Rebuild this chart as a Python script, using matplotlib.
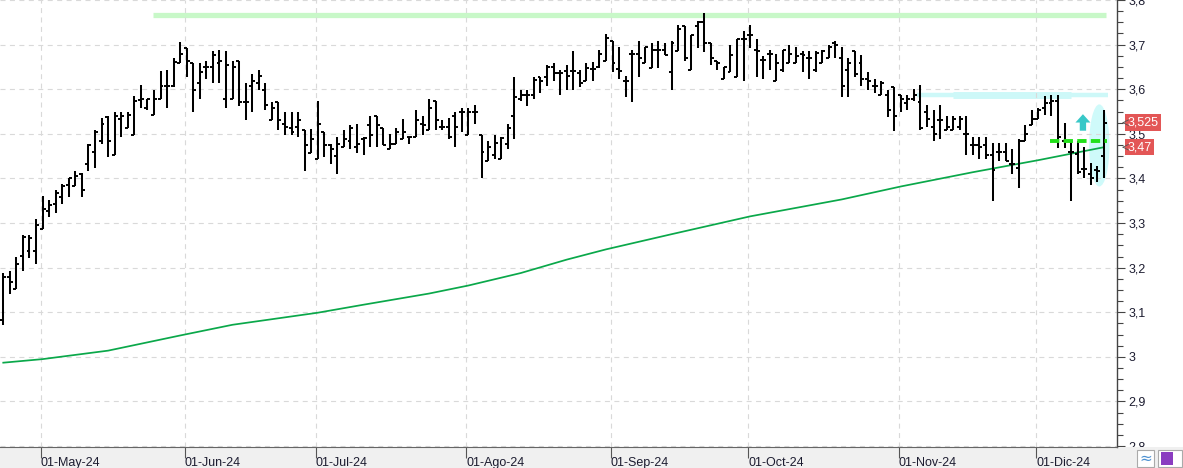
import numpy as np
import pandas as pd
import matplotlib
matplotlib.use('Agg')
import matplotlib.pyplot as plt
from matplotlib.patches import Ellipse, Rectangle
from matplotlib.ticker import MultipleLocator, FuncFormatter

plt.rcParams['font.family'] = ['Liberation Sans', 'DejaVu Sans']

# sesiones: 23-abr-2024 .. 16-dic-2024, sin el 1 de mayo
dates = pd.bdate_range('2024-04-23', '2024-12-16')
dates = dates[dates != pd.Timestamp('2024-05-01')]

opens = [3.083, 3.180, 3.153, 3.227, 3.238, 3.238, 3.287, 3.328, 3.343, 3.358,
         3.386, 3.384, 3.410, 3.432, 3.459, 3.485, 3.538, 3.453, 3.534, 3.513,
         3.498, 3.575, 3.557, 3.543, 3.579, 3.608, 3.608, 3.659, 3.692, 3.659,
         3.615, 3.649, 3.649, 3.659, 3.579, 3.579, 3.664, 3.571, 3.608, 3.615,
         3.599, 3.530, 3.571, 3.523, 3.512, 3.515, 3.509, 3.457, 3.444, 3.503,
         3.475, 3.450, 3.470, 3.485, 3.470, 3.489, 3.519, 3.539, 3.513, 3.465,
         3.478, 3.489, 3.494, 3.494, 3.523, 3.509, 3.574, 3.515, 3.515, 3.540,
         3.550, 3.498, 3.550, 3.498, 3.438, 3.453, 3.444, 3.478, 3.539, 3.579,
         3.588, 3.588, 3.627, 3.627, 3.649, 3.636, 3.640, 3.640, 3.636, 3.619,
         3.645, 3.649, 3.664, 3.709, 3.645, 3.619, 3.679, 3.679, 3.659, 3.647,
         3.689, 3.689, 3.639, 3.685, 3.741, 3.644, 3.741, 3.750, 3.704, 3.664,
         3.624, 3.639, 3.627, 3.713, 3.721, 3.689, 3.666, 3.679, 3.619, 3.644,
         3.659, 3.659, 3.679, 3.669, 3.644, 3.659, 3.669, 3.704, 3.669, 3.644,
         3.685, 3.659, 3.624, 3.608, 3.588, 3.588, 3.604, 3.588, 3.569, 3.579,
         3.571, 3.550, 3.515, 3.530, 3.509, 3.509, 3.515, 3.500, 3.474, 3.474,
         3.474, 3.453, 3.459, 3.459, 3.432, 3.423, 3.485, 3.519, 3.534, 3.559,
         3.569, 3.573, 3.483, 3.459, 3.455, 3.422, 3.410, 3.420, 3.450]
highs = [3.188, 3.193, 3.223, 3.274, 3.274, 3.308, 3.360, 3.352, 3.373, 3.387,
         3.400, 3.417, 3.413, 3.478, 3.509, 3.535, 3.539, 3.550, 3.550, 3.550,
         3.584, 3.609, 3.579, 3.599, 3.640, 3.644, 3.669, 3.705, 3.692, 3.659,
         3.659, 3.664, 3.685, 3.689, 3.685, 3.664, 3.664, 3.615, 3.634, 3.644,
         3.615, 3.571, 3.571, 3.550, 3.550, 3.550, 3.509, 3.511, 3.574, 3.503,
         3.478, 3.493, 3.509, 3.519, 3.523, 3.494, 3.539, 3.539, 3.513, 3.500,
         3.513, 3.534, 3.494, 3.554, 3.539, 3.579, 3.574, 3.530, 3.535, 3.550,
         3.558, 3.558, 3.564, 3.498, 3.485, 3.498, 3.493, 3.523, 3.627, 3.599,
         3.599, 3.627, 3.627, 3.655, 3.659, 3.644, 3.655, 3.685, 3.644, 3.659,
         3.660, 3.687, 3.724, 3.709, 3.694, 3.629, 3.689, 3.709, 3.694, 3.704,
         3.709, 3.704, 3.709, 3.745, 3.741, 3.721, 3.754, 3.770, 3.704, 3.664,
         3.649, 3.700, 3.713, 3.730, 3.745, 3.713, 3.674, 3.689, 3.679, 3.689,
         3.700, 3.694, 3.685, 3.685, 3.685, 3.689, 3.700, 3.709, 3.694, 3.669,
         3.685, 3.676, 3.639, 3.624, 3.619, 3.599, 3.604, 3.588, 3.588, 3.601,
         3.609, 3.564, 3.554, 3.564, 3.539, 3.539, 3.539, 3.539, 3.494, 3.494,
         3.494, 3.479, 3.479, 3.479, 3.465, 3.489, 3.519, 3.554, 3.559, 3.584,
         3.586, 3.588, 3.524, 3.485, 3.483, 3.470, 3.435, 3.429, 3.554]
lows = [3.072, 3.141, 3.153, 3.193, 3.222, 3.208, 3.287, 3.313, 3.322, 3.343,
        3.358, 3.384, 3.358, 3.417, 3.423, 3.478, 3.448, 3.453, 3.493, 3.513,
        3.498, 3.557, 3.553, 3.543, 3.579, 3.558, 3.604, 3.659, 3.627, 3.549,
        3.578, 3.623, 3.614, 3.614, 3.558, 3.579, 3.563, 3.530, 3.549, 3.599,
        3.553, 3.530, 3.509, 3.498, 3.498, 3.494, 3.417, 3.457, 3.444, 3.448,
        3.432, 3.409, 3.470, 3.465, 3.457, 3.452, 3.470, 3.470, 3.474, 3.465,
        3.478, 3.489, 3.478, 3.494, 3.498, 3.509, 3.509, 3.509, 3.489, 3.470,
        3.503, 3.498, 3.523, 3.400, 3.438, 3.444, 3.444, 3.465, 3.489, 3.574,
        3.563, 3.579, 3.592, 3.608, 3.619, 3.588, 3.599, 3.599, 3.604, 3.619,
        3.619, 3.647, 3.664, 3.638, 3.623, 3.582, 3.571, 3.627, 3.659, 3.647,
        3.647, 3.676, 3.599, 3.685, 3.664, 3.644, 3.692, 3.683, 3.655, 3.644,
        3.624, 3.639, 3.627, 3.618, 3.692, 3.627, 3.624, 3.644, 3.619, 3.639,
        3.659, 3.659, 3.639, 3.624, 3.639, 3.659, 3.669, 3.669, 3.583, 3.583,
        3.627, 3.608, 3.599, 3.592, 3.588, 3.537, 3.506, 3.549, 3.554, 3.574,
        3.509, 3.515, 3.483, 3.489, 3.509, 3.509, 3.509, 3.453, 3.453, 3.444,
        3.444, 3.349, 3.438, 3.438, 3.409, 3.378, 3.485, 3.519, 3.534, 3.543,
        3.539, 3.468, 3.468, 3.349, 3.410, 3.401, 3.385, 3.393, 3.400]
closes = [3.178, 3.168, 3.209, 3.269, 3.266, 3.295, 3.332, 3.340, 3.367, 3.382,
          3.400, 3.405, 3.375, 3.474, 3.503, 3.523, 3.485, 3.539, 3.539, 3.543,
          3.574, 3.579, 3.579, 3.579, 3.608, 3.608, 3.660, 3.680, 3.664, 3.599,
          3.639, 3.649, 3.676, 3.663, 3.655, 3.649, 3.571, 3.571, 3.619, 3.629,
          3.564, 3.558, 3.530, 3.515, 3.503, 3.530, 3.474, 3.489, 3.523, 3.474,
          3.465, 3.478, 3.489, 3.513, 3.478, 3.490, 3.498, 3.519, 3.474, 3.478,
          3.503, 3.503, 3.494, 3.530, 3.519, 3.558, 3.530, 3.515, 3.494, 3.515,
          3.550, 3.550, 3.550, 3.459, 3.470, 3.480, 3.490, 3.513, 3.583, 3.588,
          3.588, 3.620, 3.618, 3.649, 3.636, 3.636, 3.629, 3.640, 3.614, 3.647,
          3.645, 3.679, 3.715, 3.659, 3.640, 3.619, 3.679, 3.669, 3.694, 3.689,
          3.689, 3.676, 3.704, 3.734, 3.669, 3.721, 3.751, 3.704, 3.669, 3.659,
          3.649, 3.676, 3.713, 3.713, 3.721, 3.685, 3.666, 3.679, 3.659, 3.689,
          3.679, 3.674, 3.676, 3.669, 3.681, 3.685, 3.694, 3.700, 3.608, 3.659,
          3.634, 3.624, 3.619, 3.608, 3.614, 3.554, 3.539, 3.579, 3.579, 3.588,
          3.512, 3.534, 3.500, 3.530, 3.515, 3.534, 3.534, 3.500, 3.474, 3.470,
          3.453, 3.420, 3.459, 3.440, 3.432, 3.485, 3.500, 3.534, 3.554, 3.569,
          3.573, 3.492, 3.483, 3.459, 3.414, 3.422, 3.401, 3.417, 3.525]

# media movil (sesion, valor)
ma_idx = [0, 6, 16, 27, 35, 48, 55, 65, 71, 79, 86, 92, 102, 114, 128, 137, 148, 158, 168]
ma_vals = [2.987, 2.995, 3.014, 3.048, 3.072, 3.099, 3.117, 3.142, 3.160, 3.188,
           3.218, 3.241, 3.275, 3.315, 3.353, 3.382, 3.414, 3.441, 3.470]

month_names = ['Ene', 'Feb', 'Mar', 'Abr', 'May', 'Jun', 'Jul', 'Ago', 'Sep', 'Oct', 'Nov', 'Dic']

# niveles dibujados (valor, sesion inicial, sesion final)
resist_max = (3.766, 22.9, 168.3)
resist_nov = (3.588, 139.5, 168.7)
resist_nov_wide = (3.588, 145.0, 163.0)
soporte_dash = (3.485, 159.8, 168.5)
flecha_x, flecha_y0, flecha_y1 = 164.8, 3.507, 3.544
zona_x, zona_y, zona_w, zona_h = 167.3, 3.474, 3.1, 0.184

x = np.arange(len(dates))

fig = plt.figure(figsize=(11.83, 4.68), dpi=100, facecolor='white')
ax = fig.add_axes([0, 21 / 468, 1117 / 1183, 447 / 468])

# franja gris inferior: tapa las etiquetas del eje y pero no las fechas
strip = Rectangle((0, 0), 1, 21 / 468, transform=fig.transFigure,
                  fc='#f0f0f0', ec='none', zorder=2, clip_on=False)
ax.add_artist(strip)
ax.yaxis.set_zorder(1.5)
ax.xaxis.set_zorder(2.5)

ax.add_patch(Ellipse((zona_x, zona_y), zona_w, zona_h, fc='#cffafa', ec='none', zorder=1))
ax.hlines(resist_max[0], resist_max[1], resist_max[2], color='#c8f8c8', lw=3.8, zorder=1)
ax.hlines(resist_nov[0], resist_nov[1], resist_nov[2], color='#cdf8f8', lw=3.2, zorder=1)
ax.hlines(resist_nov_wide[0], resist_nov_wide[1], resist_nov_wide[2], color='#cdf8f8', lw=5.0, zorder=1)

ax.plot(ma_idx, ma_vals, color='#0aa84a', lw=1.25, zorder=2.7)

ax.vlines(x, lows, highs, color='black', lw=1.45, zorder=3)
ax.hlines(opens, x - 0.45, x, color='black', lw=1.4, zorder=3)
ax.hlines(closes, x, x + 0.45, color='black', lw=1.4, zorder=3)

ax.hlines(soporte_dash[0], soporte_dash[1], soporte_dash[2], color='#22e01a', lw=2.8,
          linestyles=(0, (2.4, 1.1)), zorder=4)
ax.annotate('', xy=(flecha_x, flecha_y1), xytext=(flecha_x, flecha_y0),
            arrowprops=dict(arrowstyle='simple,head_length=0.5,head_width=0.9,tail_width=0.38',
                            fc='#38c8c8', ec='none', mutation_scale=12,
                            shrinkA=0, shrinkB=0), zorder=4)

# ejes
ax.set_xlim(-0.5, 170.0)
ax.set_ylim(2.798, 3.8)
months = dates.month
firsts = [np.where(months == m)[0][0] for m in sorted(set(months)) if m != 4]
ax.set_xticks([f - 0.3 for f in firsts])
ax.set_xticklabels(['01-%s-24' % month_names[dates[f].month - 1] for f in firsts],
                   ha='left', fontsize=9, color='#1c1c30')
ax.tick_params(axis='x', direction='out', length=8, width=0.8, color='#555555', pad=-1)

ax.yaxis.tick_right()
ax.yaxis.set_major_locator(MultipleLocator(0.1))
ax.yaxis.set_minor_locator(MultipleLocator(0.025))
ax.yaxis.set_major_formatter(FuncFormatter(
    lambda v, p: ('%.1f' % v).rstrip('0').rstrip('.').replace('.', ',')))
ax.tick_params(axis='y', which='major', length=6, width=0.8, color='#444444',
               labelsize=9, labelcolor='#1c1c30', pad=2)
ax.tick_params(axis='y', which='minor', length=4, width=0.8, color='#444444')

ax.grid(True, which='major', color='#d9d9d9', lw=0.8, ls=(0, (4.5, 4)))
for s in ['top', 'left']:
    ax.spines[s].set_visible(False)
ax.spines['right'].set_color('#444444')
ax.spines['bottom'].set_color('#666666')
ax.spines['right'].set_linewidth(1.0)
ax.spines['bottom'].set_linewidth(0.8)
ax.spines['bottom'].set_zorder(2.6)

# etiquetas de ultimo valor
fmt = lambda v: ('%.3f' % v).rstrip('0').replace('.', ',')
for val in [closes[-1], ma_vals[-1]]:
    ax.text(1.0095, val, fmt(val), transform=ax.get_yaxis_transform(), fontsize=9,
            color='white', va='center', ha='left',
            bbox=dict(boxstyle='square,pad=0.18', fc='#e35656', ec='none'), clip_on=False)
    ax.annotate('', xy=(1.002, val), xytext=(1.009, val), xycoords=ax.get_yaxis_transform(),
                arrowprops=dict(arrowstyle='->', color='#555555', lw=0.6), annotation_clip=False)

# botones abajo a la derecha
fig.patches.append(Rectangle((1137 / 1183, 1.5 / 468), 17 / 1183, 17 / 468, transform=fig.transFigure,
                             fc='white', ec='#aaaaaa', lw=0.8))
fig.text(1145.5 / 1183, 10 / 468, '≈', color='#4a8fd0', fontsize=11, ha='center', va='center',
         family='DejaVu Sans')
fig.patches.append(Rectangle((1158 / 1183, 1.5 / 468), 24 / 1183, 17 / 468, transform=fig.transFigure,
                             fc='white', ec='#aaaaaa', lw=0.8))
fig.patches.append(Rectangle((1161 / 1183, 3.5 / 468), 12 / 1183, 13 / 468, transform=fig.transFigure,
                             fc='#8a3cc0', ec='none'))

fig.savefig('out.png', dpi=100, facecolor='white')
